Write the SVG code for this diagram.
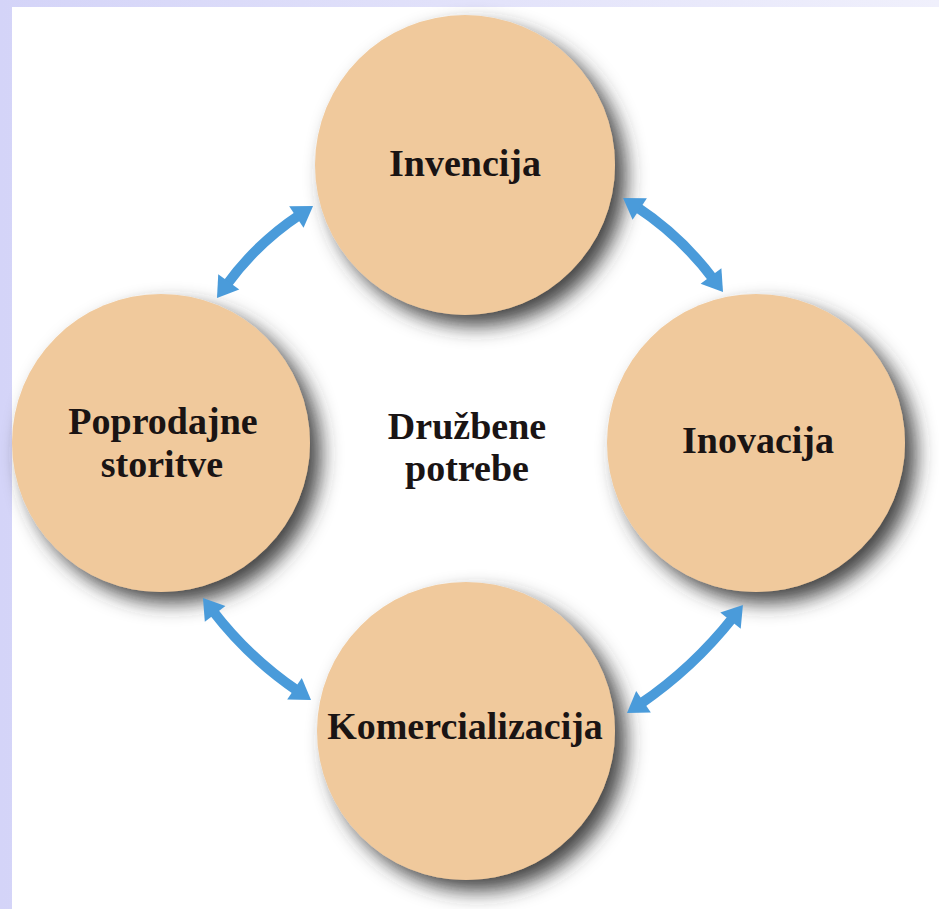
<svg xmlns="http://www.w3.org/2000/svg" width="939" height="909" viewBox="0 0 939 909">
  <defs>
    <linearGradient id="bg" x1="0" y1="0" x2="1" y2="0">
      <stop offset="0" stop-color="#D4D4F8"/>
      <stop offset="1" stop-color="#F0F0FC"/>
    </linearGradient>
    <filter id="shadow" x="-30%" y="-30%" width="170%" height="170%">
      <feDropShadow dx="11" dy="11" stdDeviation="10" flood-color="#333333" flood-opacity="0.9"/>
    </filter>
    <marker id="head" viewBox="-10 -20 40 40" markerWidth="40" markerHeight="40" refX="0" refY="0" orient="auto-start-reverse" markerUnits="userSpaceOnUse" overflow="visible">
      <path d="M-4,-13 L16,0 L-4,13 Z" fill="#4A9BDA"/>
    </marker>
  </defs>
  <style>
    .node circle { fill: #F0C99C; filter: url(#shadow); }
    .label { font-family: "Liberation Serif", "Times New Roman", serif; font-weight: bold; font-size: 38px; fill: #1a1414; text-anchor: middle; }
    .conn path { fill: none; stroke: #4A9BDA; stroke-width: 10; marker-start: url(#head); marker-end: url(#head); }
  </style>
  <rect x="0" y="0" width="939" height="909" fill="url(#bg)"/>
  <rect x="12" y="7" width="927" height="902" fill="#FFFFFF"/>

  <g id="node-invencija" class="node">
    <circle cx="465" cy="165" r="150"/>
    <text class="label" x="465" y="176">Invencija</text>
  </g>
  <g id="node-inovacija" class="node">
    <circle cx="756" cy="443" r="149"/>
    <text class="label" x="758" y="453">Inovacija</text>
  </g>
  <g id="node-komercializacija" class="node">
    <circle cx="466" cy="731" r="149"/>
    <text class="label" x="465" y="739">Komercializacija</text>
  </g>
  <g id="node-poprodajne" class="node">
    <circle cx="161" cy="443" r="149"/>
    <text class="label" x="163" y="434">Poprodajne</text>
    <text class="label" x="162" y="477">storitve</text>
  </g>
  <g id="center-label">
    <text class="label" x="467" y="439">Družbene</text>
    <text class="label" x="467" y="481">potrebe</text>
  </g>

  <g id="connectors" class="conn">
    <path d="M226.4,285.1 Q257,243 299.7,214.8"/>
    <path d="M636.4,206.8 Q681.2,236.3 713.4,279.2"/>
    <path d="M212.7,610.7 Q248.8,657.7 297.8,691"/>
    <path d="M733,617.5 Q693.2,667.8 640.2,704"/>
  </g>
</svg>
